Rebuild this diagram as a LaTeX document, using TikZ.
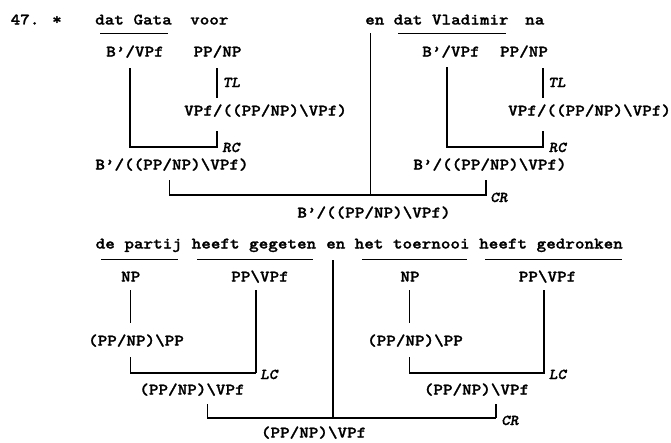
\documentclass[tikz,border=0pt]{standalone}
\usepackage{fontspec}
\newfontfamily\catfamily{lmmonolt10-bold.otf}[FakeStretch=1.14,FakeBold=1.3,ItalicFont=lmmonolt10-boldoblique.otf,ItalicFeatures={FakeStretch=1.1,FakeBold=1.3}]
\newcommand\catfont{\catfamily\fontsize{16}{18}\selectfont}
\newcommand\rulefont{\catfamily\itshape\fontsize{15}{16}\selectfont}
\begin{document}
\begin{tikzpicture}[x=1pt,y=-1pt,
  txt/.style={inner sep=0pt,text height=9pt,text depth=0pt,font=\catfont},
  lab/.style={inner sep=0pt,text height=8pt,text depth=0pt,font=\rulefont,anchor=west},
  rule/.style={line width=1.2pt},
  heavy/.style={line width=1.9pt},
  uline/.style={line width=1pt}]
\useasboundingbox (0,0) rectangle (671,442);

% ---------- upper derivation ----------
\node[txt,anchor=west] (num) at (10.5,20) {47. *};
\node[txt,anchor=west] (w1) at (95,20) {dat Gata};
\node[txt,anchor=west] (w2) at (190,20) {voor};
\node[txt,anchor=west] (w3) at (365,20) {en};
\node[txt,anchor=west] (w4) at (393.5,20) {dat Vladimir};
\node[txt,anchor=west] (w5) at (525,20) {na};
\draw[uline] (100,33) -- (168,33);
\draw[uline] (398,33) -- (506,33);

\node[txt] (c1) at (135,52) {B’/VPf};
\node[txt] (c2) at (217.5,52) {PP/NP};
\node[txt] (c3) at (451,52) {B’/VPf};
\node[txt] (c4) at (524,52) {PP/NP};

\node[txt,anchor=west] (v1) at (184,111) {VPf/((PP/NP)\textbackslash VPf)};
\node[txt,anchor=west] (v2) at (508,111) {VPf/((PP/NP)\textbackslash VPf)};

\node[txt] (b1) at (172,165) {B’/((PP/NP)\textbackslash VPf)};
\node[txt] (b2) at (490,165) {B’/((PP/NP)\textbackslash VPf)};
\node[txt] (b3) at (374,213) {B’/((PP/NP)\textbackslash VPf)};

% type lifting
\coordinate (tlA) at (217,68);  \coordinate (tlB) at (217,98);
\coordinate (tlC) at (543,68);  \coordinate (tlD) at (543,98);
\draw[rule] (tlA) -- (tlB);
\draw[rule] (tlC) -- (tlD);
\node[lab] (tl1) at (222.5,83) {TL};
\node[lab] (tl2) at (548,83) {TL};

% right composition
\coordinate (rcA) at (130,68);  \coordinate (rcB) at (217,147); \coordinate (rcC) at (217,131);
\coordinate (rcD) at (447,67);  \coordinate (rcE) at (543,147); \coordinate (rcF) at (543,131);
\draw[rule] (rcA) |- (rcB) -- (rcC);
\draw[rule] (rcD) |- (rcE) -- (rcF);
\draw[heavy] (rcD) -- (rcD |- rcE);
\node[lab] (rc1) at (222,148) {RC};
\node[lab] (rc2) at (548.5,148) {RC};

% coordination
\coordinate (crA) at (169.3,180); \coordinate (crB) at (486,195); \coordinate (crC) at (486,180);
\coordinate (crM) at (370.7,33);
\draw[rule] (crA) |- (crB) -- (crC);
\draw[rule] (crM) -- (crM |- crB);
\node[lab] (cr1) at (490,198) {CR};

% ---------- lower derivation ----------
\node[txt,anchor=west] (d1) at (95.5,244) {de partij};
\node[txt,anchor=west] (d2) at (191.5,244) {heeft gegeten};
\node[txt,anchor=west] (d3) at (326,244) {en};
\node[txt,anchor=west] (d4) at (354.5,244) {het toernooi};
\node[txt,anchor=west] (d5) at (479,244) {heeft gedronken};
\draw[uline] (101,259) -- (178,259);
\draw[uline] (197,259) -- (313,259);
\draw[uline] (362,259) -- (467,259);
\draw[uline] (485,259) -- (622,259);

\node[txt] (n1) at (130.7,277) {NP};
\node[txt] (p1) at (260,277) {PP\textbackslash VPf};
\node[txt] (n2) at (410,277) {NP};
\node[txt] (p2) at (547.5,277) {PP\textbackslash VPf};

\node[txt] (q1) at (136,341) {(PP/NP)\textbackslash PP};
\node[txt] (q2) at (415,341) {(PP/NP)\textbackslash PP};

\node[txt] (r1) at (192,390) {(PP/NP)\textbackslash VPf};
\node[txt] (r2) at (476.5,390) {(PP/NP)\textbackslash VPf};
\node[txt] (r3) at (313.6,433) {(PP/NP)\textbackslash VPf};

% NP to (PP/NP)\PP
\coordinate (npA) at (130.7,290); \coordinate (npB) at (130.7,323);
\coordinate (npC) at (409.3,290); \coordinate (npD) at (409.3,323);
\draw[rule] (npA) -- (npB);
\draw[rule] (npC) -- (npD);

% left composition
\coordinate (lcA) at (130.7,357); \coordinate (lcB) at (255.7,373); \coordinate (lcC) at (255.7,290);
\coordinate (lcD) at (409.3,357); \coordinate (lcE) at (544,373);   \coordinate (lcF) at (544,290);
\draw[rule] (lcA) |- (lcB) -- (lcC);
\draw[rule] (lcD) |- (lcE) -- (lcF);
\draw[heavy] (lcB) -- (lcC);
\draw[heavy] (lcE) -- (lcF);
\node[lab] (lc1) at (260,375) {LC};
\node[lab] (lc2) at (548.6,375) {LC};

% coordination
\coordinate (cbA) at (207.5,404); \coordinate (cbB) at (495.7,418); \coordinate (cbC) at (495.7,404);
\coordinate (cbM) at (332.7,260);
\draw[rule] (cbA) |- (cbB) -- (cbC);
\draw[heavy] (cbA) -- (cbA |- cbB);
\draw[heavy] (cbC) -- (cbB);
\draw[heavy] (cbM) -- (cbM |- cbB);
\node[lab] (cr2) at (501,421) {CR};
\end{tikzpicture}
\end{document}
